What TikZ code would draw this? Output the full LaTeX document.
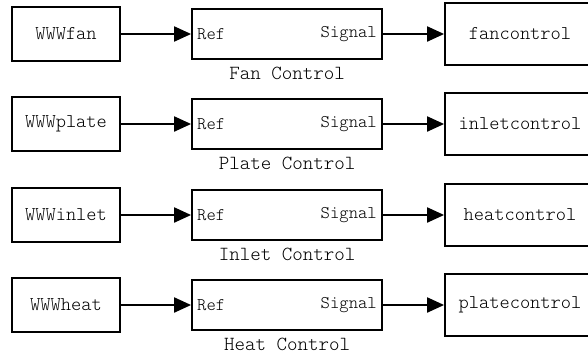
\documentclass[tikz,border=0pt]{standalone}
\usepackage{fontspec}
\setmonofont{Latin Modern Mono Light}
\usetikzlibrary{arrows.meta}
\begin{document}
\begin{tikzpicture}[x=1pt,y=-1pt,
  box/.style={draw,line width=1.8pt,inner sep=0pt,font=\ttfamily\fontsize{19.5}{19.5}\selectfont},
  srcbox/.style={box,minimum width=108pt,minimum height=54pt},
  ctlbox/.style={box,minimum width=190pt,minimum height=50pt},
  dstbox/.style={box,minimum width=150pt,minimum height=62pt},
  port/.style={inner sep=0pt,font=\ttfamily\fontsize{17.8}{17.8}\selectfont},
  caption/.style={inner sep=0pt,font=\ttfamily\fontsize{20}{20}\selectfont},
  arr/.style={line width=2pt,-{Triangle[length=17pt,width=15pt]}}]
\useasboundingbox (0,0) rectangle (588,356);
\foreach \cy/\src/\cap/\dst [count=\k] in {34/WWWfan/Fan Control/fancontrol,
  124/WWWplate/Plate Control/inletcontrol,
  215/WWWinlet/Inlet Control/heatcontrol,
  305/WWWheat/Heat Control/platecontrol}{
  \node[srcbox] (src\k) at (66,\cy) {\src};
  \node[ctlbox] (ctl\k) at (287,\cy) {};
  \node[dstbox] (dst\k) at (520,\cy) {\dst};
  \node[port,anchor=west] (ref\k) at (197,\cy) {Ref};
  \node[port,anchor=east] (sig\k) at (377,\cy) {Signal};
  \node[caption] (cap\k) at (287,\cy+39) {\cap};
  \draw[arr] (src\k.east) -- (ctl\k.west);
  \draw[arr] (ctl\k.east) -- (dst\k.west);
}
\end{tikzpicture}
\end{document}
